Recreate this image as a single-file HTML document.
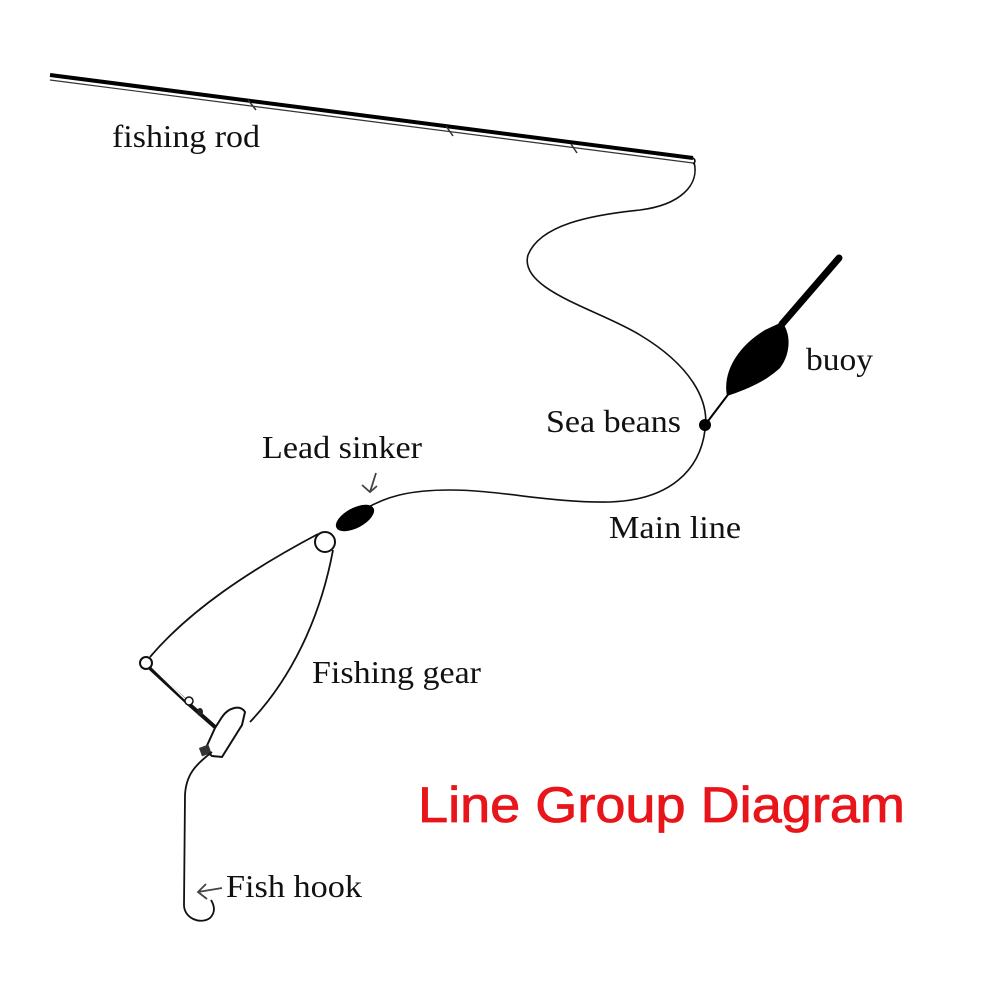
<!DOCTYPE html>
<html><head><meta charset="utf-8"><style>html,body{margin:0;padding:0;background:#fff}svg{display:block}</style></head>
<body>
<svg width="1000" height="1000" viewBox="0 0 1000 1000" xmlns="http://www.w3.org/2000/svg">
<rect width="1000" height="1000" fill="#fff"/>
<path d="M50 75 L693 158" stroke="#000" stroke-width="4" fill="none"/>
<path d="M50 80 L693 163" stroke="#333" stroke-width="1.2" fill="none"/>
<path d="M693 158 Q697 161 693 164" stroke="#000" stroke-width="1.5" fill="none"/>
<path d="M248 100 L256 110 M446 126 L453 136 M571 144 L577 153" stroke="#333" stroke-width="1.5" fill="none"/>
<path d="M694 162 C700 185 680 205 640 210 C590 215 540 225 528 255 C518 290 600 310 640 335 C690 365 710 400 705 430 C700 470 670 500 610 502 C550 503 500 490 450 490 C410 490 385 496 360 512" stroke="#111" stroke-width="1.6" fill="none"/>
<line x1="705" y1="425" x2="730" y2="392" stroke="#000" stroke-width="2"/>
<path d="M727 396 C722 370 740 345 765 330 L782 322 C792 335 790 355 780 368 C765 382 745 390 727 396 Z" fill="#000"/>
<line x1="782" y1="324" x2="839" y2="258" stroke="#000" stroke-width="7" stroke-linecap="round"/>
<circle cx="705" cy="425" r="6" fill="#000"/>
<ellipse cx="355" cy="518" rx="21" ry="10" transform="rotate(-28 355 518)" fill="#000"/>
<path d="M318 534 C250 570 190 610 150 657" stroke="#111" stroke-width="1.8" fill="none"/>
<path d="M333 550 C320 620 290 680 250 722" stroke="#111" stroke-width="1.8" fill="none"/>
<circle cx="325" cy="542" r="10" fill="#fff" stroke="#111" stroke-width="2"/>
<circle cx="146" cy="663" r="6" fill="#fff" stroke="#111" stroke-width="2"/>
<path d="M150 668 L190 705 L215 727" stroke="#111" stroke-width="4" fill="none"/>
<path d="M152 667 L188 702" stroke="#fff" stroke-width="1.5" fill="none"/>
<circle cx="189" cy="701" r="4" fill="#fff" stroke="#111" stroke-width="1.5"/>
<ellipse cx="200" cy="712" rx="3" ry="4" fill="#222"/>
<path d="M215 728 L222 717 C228 708 240 704 245 712 L242 725 L222 757 L212 756 L205 750 Z" fill="#fff" stroke="#111" stroke-width="2"/>
<rect x="200" y="746" width="10" height="9" fill="#333" transform="rotate(-20 205 750)"/>
<path d="M212 752 C195 765 186 775 185 795 L184 905 C184 918 200 925 210 918 C216 912 214 905 211 900" stroke="#111" stroke-width="1.8" fill="none"/>
<path d="M376 473 L370 492 M362 485 L370 492 L377 486" stroke="#444" stroke-width="1.8" fill="none"/>
<path d="M222 888 L198 892 M206 884 L198 892 L207 899" stroke="#444" stroke-width="1.8" fill="none"/>
<g font-family="Liberation Serif, serif" font-size="32" fill="#111" lengthAdjust="spacingAndGlyphs">
<text x="112" y="147" textLength="148" lengthAdjust="spacingAndGlyphs">fishing rod</text>
<text x="806" y="370" textLength="67" lengthAdjust="spacingAndGlyphs">buoy</text>
<text x="546" y="432" textLength="135" lengthAdjust="spacingAndGlyphs">Sea beans</text>
<text x="262" y="458" textLength="160" lengthAdjust="spacingAndGlyphs">Lead sinker</text>
<text x="609" y="538" textLength="132" lengthAdjust="spacingAndGlyphs">Main line</text>
<text x="312" y="683" textLength="169" lengthAdjust="spacingAndGlyphs">Fishing gear</text>
<text x="226" y="897" textLength="136" lengthAdjust="spacingAndGlyphs">Fish hook</text>
</g>
<text x="418" y="822" font-family="Liberation Sans, sans-serif" font-size="50" fill="#e8151b" stroke="#e8151b" stroke-width="0.8" textLength="487" lengthAdjust="spacingAndGlyphs">Line Group Diagram</text>
</svg>
</body></html>
